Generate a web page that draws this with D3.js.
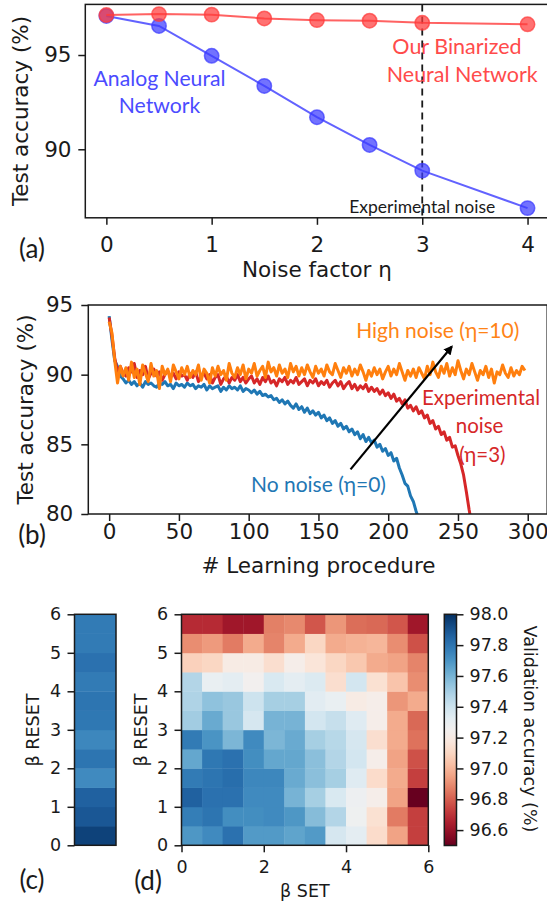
<!DOCTYPE html>
<html><head><meta charset="utf-8">
<script src="https://cdn.jsdelivr.net/npm/d3@7"></script>
<style>
body{margin:0;background:#fff;}
svg{display:block;}
</style></head><body>
<svg id="chart" width="547" height="903"></svg>
<script>
// ================= Panel (a) data =================
const noiseFactor = [0, 0.5, 1, 1.5, 2, 2.5, 3, 4];
const binarizedAcc = [97.12, 97.17, 97.14, 96.94, 96.85, 96.82, 96.71, 96.63];
const analogAcc = [97.07, 96.54, 94.96, 93.36, 91.70, 90.23, 88.87, 86.88];
const aXTicks = [0, 1, 2, 3, 4];
const aYTicks = [90, 95];
const experimentalNoise = 3;

// ================= Panel (b) data (sampled every 2 learning procedures) =================
const stepEvery = 2;
const noNoiseAcc = [94.2,92.5,91.0,90.6,89.9,89.7,89.4,89.6,89.3,89.5,
 89.2,89.4,89.1,89.5,89.3,89.4,89.2,89.1,89.4,89.3,
 89.5,89.2,89.3,89.0,89.4,89.2,89.3,89.1,89.4,89.2,
 89.3,89.0,89.2,89.1,89.3,88.9,89.2,89.0,89.1,89.2,
 88.8,89.1,88.9,89.2,89.0,89.1,88.9,89.2,88.8,89.0,
 88.9,88.7,88.9,88.6,88.8,88.5,88.6,88.4,88.5,88.2,
 88.3,88.0,88.2,87.9,88.1,87.8,87.6,87.9,87.5,87.7,
 87.3,87.6,87.2,87.4,87.1,87.3,86.9,87.1,86.7,86.9,
 86.5,86.7,86.3,86.5,86.1,86.3,85.9,86.1,85.7,85.9,
 85.4,85.7,85.2,85.5,85.1,85.3,84.8,85.0,84.5,84.7,
 84.2,84.4,83.8,84.0,83.3,82.8,82.2,82.0,81.3,80.9,
 80.2,79.6];
const expNoiseAcc = [94.1,92.8,91.2,90.2,90.6,90.1,89.9,90.5,90.2,90.8,
 89.8,90.3,90.0,90.6,89.7,90.1,90.4,89.9,90.2,89.6,
 90.0,90.3,89.8,90.1,89.7,90.2,89.9,90.0,89.6,90.1,
 89.8,90.2,89.5,89.9,90.1,89.7,90.0,89.4,89.8,90.0,
 89.3,89.7,89.9,89.4,89.8,89.6,90.0,89.5,89.8,89.4,
 89.7,89.9,89.4,89.7,89.3,89.8,89.5,89.9,89.4,89.6,
 89.2,89.7,89.5,89.8,89.3,89.6,89.4,89.8,89.3,89.5,
 89.7,89.2,89.6,89.4,89.7,89.2,89.5,89.3,89.6,89.1,
 89.4,89.6,89.2,89.5,89.0,89.3,89.5,89.0,89.3,88.9,
 89.2,89.0,89.3,88.8,89.1,88.8,89.0,88.6,88.9,88.5,
 88.7,88.3,88.6,88.1,88.3,87.9,88.2,87.6,87.8,87.4,
 87.7,87.2,87.4,86.9,87.1,86.5,86.7,86.1,86.3,85.7,
 85.9,85.3,85.5,84.8,84.9,84.2,83.6,82.8,81.6,80.3,
 79.2];
const highNoiseAcc = [93.8,93.0,91.0,89.4,90.6,89.9,90.5,89.6,90.9,89.8,
 90.4,89.3,90.7,90.1,89.5,90.8,89.9,90.3,89.0,90.6,
 90.0,90.4,89.5,90.7,90.2,89.7,90.5,90.0,90.6,89.8,
 90.3,90.0,90.7,89.6,90.4,90.1,89.4,90.5,89.9,90.6,
 90.0,90.3,89.6,90.8,90.1,89.8,90.5,90.0,90.7,89.7,
 90.4,90.1,90.8,89.9,90.3,90.6,89.8,90.9,90.2,90.5,
 89.9,90.7,90.1,90.4,89.8,90.8,90.2,90.6,89.9,90.5,
 90.0,90.7,90.2,89.8,90.6,90.1,90.4,89.9,90.7,90.2,
 90.0,90.8,90.3,89.8,90.5,90.1,90.6,89.9,90.4,90.0,
 90.7,90.2,89.6,90.3,89.9,90.5,90.0,90.4,89.7,90.2,
 90.6,89.9,90.4,90.0,90.8,90.2,89.6,90.3,89.9,90.4,
 89.8,90.5,90.1,89.7,90.6,90.0,90.9,90.2,89.8,90.6,
 90.1,90.8,89.9,90.5,90.0,91.0,90.3,89.7,90.4,90.0,
 90.8,90.2,89.6,90.3,90.0,90.6,89.8,90.4,89.4,90.2,
 90.0,90.7,90.1,89.8,90.5,89.9,90.3,90.0,90.6,90.3];
const bXTicks = [0, 50, 100, 150, 200, 250, 300];
const bYTicks = [80, 85, 90, 95];
const bYDomain = [80, 95];
const bXMax = 299;

// ================= Panel (c)/(d) data =================
// rows ordered by beta RESET from 0 (bottom) to 6 (top); 12 bins of 0.5
const betaResetOnlyAcc = [97.95, 97.89, 97.86, 97.73, 97.80, 97.74, 97.79, 97.80, 97.78, 97.81, 97.78, 97.78];
const setResetAcc = [
 [97.69,97.73,97.81,97.68,97.68,97.65,97.68,97.37,97.32,97.12,96.95,96.73],
 [97.77,97.80,97.72,97.72,97.73,97.69,97.57,97.47,97.27,97.14,96.86,96.73],
 [97.86,97.81,97.81,97.73,97.73,97.60,97.50,97.36,97.28,97.22,96.95,96.50],
 [97.78,97.80,97.82,97.74,97.74,97.63,97.56,97.50,97.34,97.12,96.97,96.73],
 [97.64,97.79,97.81,97.72,97.64,97.64,97.56,97.47,97.38,97.22,96.95,96.77],
 [97.78,97.70,97.59,97.73,97.59,97.63,97.50,97.46,97.37,97.13,96.97,96.84],
 [97.51,97.63,97.53,97.37,97.60,97.60,97.38,97.42,97.34,97.22,96.97,96.82],
 [97.48,97.55,97.53,97.40,97.50,97.50,97.33,97.30,97.20,97.22,96.92,96.97],
 [97.47,97.30,97.32,97.25,97.36,97.32,97.35,97.13,97.38,97.14,97.04,96.90],
 [97.08,97.10,97.20,97.20,97.13,97.22,97.16,97.10,97.05,96.97,96.95,96.88],
 [96.90,96.93,96.86,96.97,96.88,96.97,97.10,96.97,96.99,97.00,96.90,96.77],
 [96.68,96.68,96.62,96.62,96.87,96.89,96.78,96.92,96.83,96.82,96.78,96.62]
];
const betaRange = [0, 6];
const betaTicks = [0, 1, 2, 3, 4, 5, 6];
const betaSetTicks = [0, 2, 4, 6];
const colorDomain = [96.5, 98.0];
const colorTicks = [96.6, 96.8, 97.0, 97.2, 97.4, 97.6, 97.8, 98.0];

// ================= drawing =================
const svg = d3.select("#chart");
const TICKF = "'DejaVu Sans', sans-serif";
const ANNF = "Lato, 'Open Sans', sans-serif";
const INK = "#1a1a1a";
const defs = svg.append("defs");

function frame(x0, x1, y0, y1) {
  svg.append("rect").attr("x", x0).attr("y", y0).attr("width", x1 - x0).attr("height", y1 - y0)
    .attr("fill", "none").attr("stroke", INK).attr("stroke-width", 1.5);
}
function styleAxis(g, fs) {
  g.select(".domain").remove();
  g.attr("font-family", TICKF).attr("font-size", fs);
  g.selectAll(".tick line").attr("stroke", INK).attr("stroke-width", 1.5);
  g.selectAll(".tick text").attr("fill", INK);
}
function bottomAxis(scale, ticks, y, fs, pad, fmt) {
  const g = svg.append("g").attr("transform", `translate(0,${y})`)
    .call(d3.axisBottom(scale).tickValues(ticks).tickSize(7).tickPadding(pad).tickFormat(fmt || d3.format("d")));
  styleAxis(g, fs);
}
function leftAxis(scale, ticks, x, fs, pad, fmt) {
  const g = svg.append("g").attr("transform", `translate(${x},0)`)
    .call(d3.axisLeft(scale).tickValues(ticks).tickSize(7).tickPadding(pad).tickFormat(fmt || d3.format("d")));
  styleAxis(g, fs);
}
function label(txt, x, y, opts) {
  const t = svg.append("text").attr("x", x).attr("y", y).text(txt)
    .attr("font-family", opts.font || TICKF).attr("font-size", opts.size)
    .attr("fill", opts.color || INK).attr("text-anchor", opts.anchor || "middle");
  if (opts.rotate) t.attr("transform", `rotate(${opts.rotate},${x},${y})`);
  return t;
}

// ---------- Panel (a) ----------
{
  const xe = d3.extent(noiseFactor), xp = (xe[1] - xe[0]) * 0.05;
  const ye = d3.extent(analogAcc.concat(binarizedAcc)), yp = (ye[1] - ye[0]) * 0.05;
  const x = d3.scaleLinear().domain([xe[0] - xp, xe[1] + xp]).range([85.3, 548.6]);
  const y = d3.scaleLinear().domain([ye[0] - yp, ye[1] + yp]).range([217.8, 4.4]);

  svg.append("line").attr("x1", x(experimentalNoise)).attr("x2", x(experimentalNoise))
    .attr("y1", y.range()[1]).attr("y2", y.range()[0])
    .attr("stroke", INK).attr("stroke-width", 1.8).attr("stroke-dasharray", "7,5");

  const series = [
    {vals: analogAcc, color: "#3b3bff"},
    {vals: binarizedAcc, color: "#ff3b3b"}
  ];
  const line = d3.line().x((d, i) => x(noiseFactor[i])).y(d => y(d));
  series.forEach(s => {
    svg.append("path").datum(s.vals).attr("d", line).attr("fill", "none")
      .attr("stroke", s.color).attr("stroke-opacity", 0.8).attr("stroke-width", 2);
    svg.append("g").selectAll("circle").data(s.vals).join("circle")
      .attr("cx", (d, i) => x(noiseFactor[i])).attr("cy", d => y(d)).attr("r", 7.2)
      .attr("fill", s.color).attr("fill-opacity", 0.72)
      .attr("stroke", s.color).attr("stroke-opacity", 0.72).attr("stroke-width", 1.5);
  });

  frame(x.range()[0], x.range()[1], y.range()[1], y.range()[0]);
  bottomAxis(x, aXTicks, y.range()[0], 21.5, 12);
  leftAxis(y, aYTicks, x.range()[0], 21.5, 6.8);

  label("Noise factor η", x(2), 277, {size: 21.5});
  label("Test accuracy (%)", 28, 111, {size: 21.5, rotate: -90});
  label("(a)", 32, 258, {size: 26, font: ANNF});

  label("Analog Neural", x(0.505), y(93.36), {size: 21.2, font: ANNF, color: "#4b4bff"});
  label("Network", x(0.505), y(91.93), {size: 21.2, font: ANNF, color: "#4b4bff"});
  label("Our Binarized", x(3.33), y(95.04), {size: 21.5, font: ANNF, color: "#ff4b4b"});
  label("Neural Network", x(3.38), y(93.59), {size: 21.5, font: ANNF, color: "#ff4b4b"});
  label("Experimental noise", x(experimentalNoise), y(86.6), {size: 17.5, font: ANNF, color: INK});
}

// ---------- Panel (b) ----------
{
  const x = d3.scaleLinear().domain([-bXMax * 0.05, bXMax * 1.05]).range([88.3, 547.2]);
  const y = d3.scaleLinear().domain(bYDomain).range([514, 305]);
  defs.append("clipPath").attr("id", "clipB").append("rect")
    .attr("x", x.range()[0]).attr("y", y.range()[1])
    .attr("width", x.range()[1] - x.range()[0]).attr("height", y.range()[0] - y.range()[1]);

  const line = d3.line().x((d, i) => x(i * stepEvery)).y(d => y(d));
  const series = [
    {vals: noNoiseAcc, color: "#1f77b4"},
    {vals: expNoiseAcc, color: "#d62728"},
    {vals: highNoiseAcc, color: "#ff7f0e"}
  ];
  const g = svg.append("g").attr("clip-path", "url(#clipB)");
  series.forEach(s => {
    g.append("path").datum(s.vals).attr("d", line).attr("fill", "none")
      .attr("stroke", s.color).attr("stroke-width", 3).attr("stroke-linejoin", "round");
  });

  defs.append("marker").attr("id", "arrowHead").attr("viewBox", "0 0 10 10")
    .attr("refX", 8).attr("refY", 5).attr("markerWidth", 4.2).attr("markerHeight", 4.2)
    .attr("orient", "auto").append("path").attr("d", "M0,0L10,5L0,10z").attr("fill", "#000");
  const arrowFrom = [173, 83.2], arrowTo = [245.5, 92.0];
  svg.append("line").attr("x1", x(arrowFrom[0])).attr("y1", y(arrowFrom[1]))
    .attr("x2", x(arrowTo[0])).attr("y2", y(arrowTo[1]))
    .attr("stroke", "#000").attr("stroke-width", 2.2).attr("marker-end", "url(#arrowHead)");

  frame(x.range()[0], x.range()[1], y.range()[1], y.range()[0]);
  bottomAxis(x, bXTicks, y.range()[0], 21.5, 3);
  leftAxis(y, bYTicks, x.range()[0], 21.5, 8);

  label("# Learning procedure", x(150), 573, {size: 21.5});
  label("Test accuracy (%)", 33, 409.5, {size: 21.5, rotate: -90});
  label("(b)", 32, 544, {size: 26, font: ANNF});

  label("High noise (η=10)", x(235.5), y(92.63), {size: 21, font: ANNF, color: "#ff8316"});
  label("Experimental", x(266.5), y(87.82), {size: 20.5, font: ANNF, color: "#d62728"});
  label("noise", x(265.5), y(85.81), {size: 20.5, font: ANNF, color: "#d62728"});
  label("(η=3)", x(267.5), y(83.73), {size: 20.5, font: ANNF, color: "#d62728"});
  label("No noise (η=0)", x(150), y(81.58), {size: 21, font: ANNF, color: "#1f77b4"});
}

// ---------- Panels (c) and (d) ----------
{
  const color = d3.scaleSequential(d3.interpolateRdBu).domain(colorDomain);
  const y = d3.scaleLinear().domain(betaRange).range([845.3, 614.3]);
  const nRows = setResetAcc.length;
  const bin = (betaRange[1] - betaRange[0]) / nRows;

  // (c)
  const cx0 = 74.5, cx1 = 116;
  svg.append("g").selectAll("rect").data(betaResetOnlyAcc).join("rect")
    .attr("x", cx0).attr("width", cx1 - cx0)
    .attr("y", (d, i) => y((i + 1) * bin)).attr("height", (d, i) => y(i * bin) - y((i + 1) * bin) + 0.4)
    .attr("fill", d => color(d));
  frame(cx0, cx1, y.range()[1], y.range()[0]);
  leftAxis(y, betaTicks, cx0, 17.5, 6.3);
  label("β RESET", 38.5, 730, {size: 17.5, rotate: -90});
  label("(c)", 32, 889, {size: 26, font: ANNF});

  // (d)
  const x = d3.scaleLinear().domain(betaRange).range([181.5, 428.3]);
  const cells = [];
  setResetAcc.forEach((row, r) => row.forEach((v, c) => cells.push({r, c, v})));
  svg.append("g").selectAll("rect").data(cells).join("rect")
    .attr("x", d => x(d.c * bin)).attr("width", d => x((d.c + 1) * bin) - x(d.c * bin) + 0.4)
    .attr("y", d => y((d.r + 1) * bin)).attr("height", d => y(d.r * bin) - y((d.r + 1) * bin) + 0.4)
    .attr("fill", d => color(d.v));
  frame(x.range()[0], x.range()[1], y.range()[1], y.range()[0]);
  leftAxis(y, betaTicks, x.range()[0], 17.5, 6.4);
  bottomAxis(x, betaSetTicks, y.range()[0], 17.5, 8);
  label("β RESET", 146.5, 730, {size: 17.5, rotate: -90});
  label("β SET", x(3), 897, {size: 17.5});
  label("(d)", 148, 890, {size: 26, font: ANNF});

  // colorbar
  const cy = d3.scaleLinear().domain(colorDomain).range([845.5, 614.3]);
  const grad = defs.append("linearGradient").attr("id", "cbGrad")
    .attr("x1", 0).attr("y1", 1).attr("x2", 0).attr("y2", 0);
  d3.range(0, 1.0001, 0.05).forEach(t => {
    grad.append("stop").attr("offset", t)
      .attr("stop-color", color(colorDomain[0] + t * (colorDomain[1] - colorDomain[0])));
  });
  const bx0 = 444.3, bx1 = 456.5;
  svg.append("rect").attr("x", bx0).attr("y", cy.range()[1]).attr("width", bx1 - bx0)
    .attr("height", cy.range()[0] - cy.range()[1]).attr("fill", "url(#cbGrad)");
  frame(bx0, bx1, cy.range()[1], cy.range()[0]);
  const g = svg.append("g").attr("transform", `translate(${bx1},0)`)
    .call(d3.axisRight(cy).tickValues(colorTicks).tickSize(7).tickPadding(6).tickFormat(d3.format(".1f")));
  styleAxis(g, 17.5);
  label("Validation accuracy (%)", 524, 729, {size: 17.5, rotate: 90});
}
</script>
</body></html>
